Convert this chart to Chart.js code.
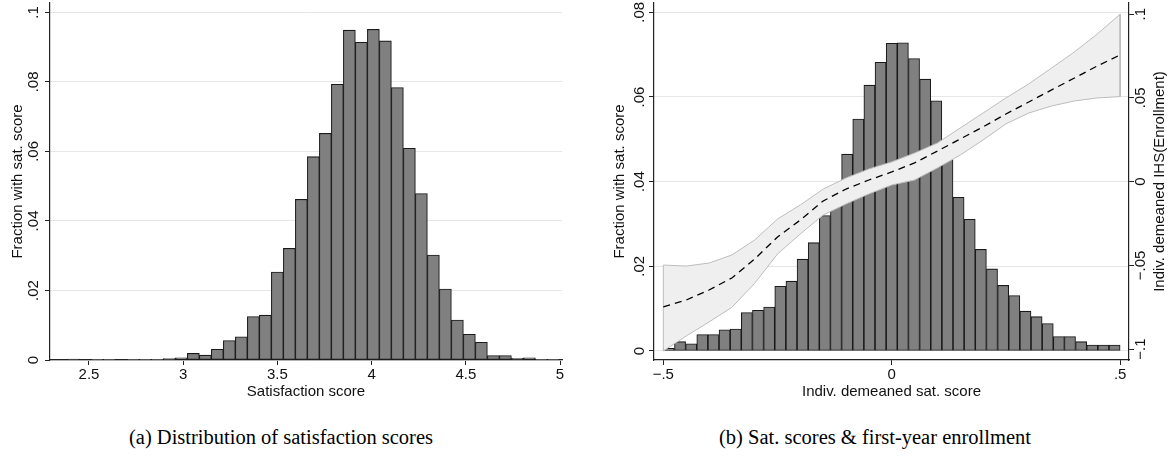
<!DOCTYPE html>
<html>
<head>
<meta charset="utf-8">
<script src="https://cdn.jsdelivr.net/npm/chart.js@4.4.0/dist/chart.umd.min.js"></script>
<style>
    body { margin: 0; background: #fff; width: 1176px; height: 471px; position: relative; overflow: hidden; }
    canvas { display: block; }
    #wrapA { position: absolute; left: 0; top: 0; }
    #wrapB { position: absolute; left: 585px; top: 0; }
    .caption {
        position: absolute; top: 425px; white-space: nowrap;
        font-family: "Liberation Serif", "Times New Roman", serif; font-size: 20.5px; line-height: 24px;
        color: #000; transform: translateX(-50%);
    }
</style>
</head>
<body>
<div id="wrapA"><canvas id="chartA" width="585" height="410"></canvas></div>
<div id="wrapB"><canvas id="chartB" width="591" height="410"></canvas></div>
<div class="caption" style="left:281px">(a) Distribution of satisfaction scores</div>
<div class="caption" style="left:875px">(b) Sat. scores &amp; first-year enrollment</div>

<script>
// ---- panel (a): histogram of satisfaction scores ----
const binsA = [2.4169, 2.4806, 2.5443, 2.6080, 2.6717, 2.7354, 2.7991, 2.8628, 2.9265, 2.9902,
    3.0539, 3.1176, 3.1813, 3.2450, 3.3087, 3.3724, 3.4361, 3.4998, 3.5635, 3.6272,
    3.6909, 3.7546, 3.8183, 3.8820, 3.9457, 4.0094, 4.0731, 4.1368, 4.2005, 4.2642,
    4.3279, 4.3916, 4.4553, 4.5190, 4.5827, 4.6464, 4.7101, 4.7738, 4.8375, 4.9012, 4.9649];
const fracA = [0.0003, 0, 0.0002, 0.0002, 0, 0.0002, 0.0002, 0.0002, 0.0004, 0.0006,
    0.0019, 0.0014, 0.0031, 0.0056, 0.0067, 0.0125, 0.0129, 0.0253, 0.0321, 0.0462,
    0.0585, 0.0652, 0.0793, 0.0949, 0.0914, 0.0951, 0.0918, 0.0784, 0.0609, 0.0479,
    0.0302, 0.0204, 0.0115, 0.0074, 0.0051, 0.0013, 0.0013, 0.0005, 0.0006, 0.0001, 0.0002];
const xTicksA = [2.5, 3, 3.5, 4, 4.5, 5];
const xLabelsA = ['2.5', '3', '3.5', '4', '4.5', '5'];
const yTicksA = [0, 0.02, 0.04, 0.06, 0.08, 0.1];
const yLabelsA = ['0', '.02', '.04', '.06', '.08', '.1'];

// ---- panel (b): demeaned scores + enrollment fit ----
const binsB = [-0.4878, -0.4634, -0.4390, -0.4146, -0.3902, -0.3659, -0.3415, -0.3171, -0.2927, -0.2683,
    -0.2439, -0.2195, -0.1951, -0.1707, -0.1463, -0.1220, -0.0976, -0.0732, -0.0488, -0.0244,
    0.0000, 0.0244, 0.0488, 0.0732, 0.0976, 0.1220, 0.1463, 0.1707, 0.1951, 0.2195,
    0.2439, 0.2683, 0.2927, 0.3171, 0.3415, 0.3659, 0.3902, 0.4146, 0.4390, 0.4634, 0.4878];
const fracB = [0.0006, 0.0022, 0.0017, 0.0039, 0.0039, 0.0050, 0.0052, 0.0091, 0.0096, 0.0104,
    0.0153, 0.0165, 0.0217, 0.0256, 0.0320, 0.0380, 0.0465, 0.0548, 0.0628, 0.0682,
    0.0727, 0.0728, 0.0691, 0.0642, 0.0591, 0.0480, 0.0363, 0.0311, 0.0240, 0.0194,
    0.0155, 0.0131, 0.0094, 0.0081, 0.0065, 0.0034, 0.0034, 0.0022, 0.0014, 0.0014, 0.0014];
const curveX = [-0.5, -0.45, -0.4, -0.35, -0.3, -0.25, -0.2, -0.15, -0.1, -0.05, 0,
    0.05, 0.1, 0.15, 0.2, 0.25, 0.3, 0.35, 0.4, 0.45, 0.5];
const fitLine = [-0.0747, -0.0707, -0.0647, -0.0575, -0.0462, -0.0330, -0.0229, -0.0115, -0.0044, 0.0010, 0.0058,
    0.0112, 0.0183, 0.0255, 0.0327, 0.0404, 0.0476, 0.0548, 0.0619, 0.0691, 0.0757];
const ciUpper = [-0.0498, -0.0504, -0.0486, -0.0438, -0.0348, -0.0223, -0.0139, -0.0044, 0.0022, 0.0076, 0.0118,
    0.0171, 0.0231, 0.0321, 0.0410, 0.0500, 0.0584, 0.0679, 0.0775, 0.0882, 0.1000];
const ciLower = [-0.1011, -0.0922, -0.0838, -0.0751, -0.0607, -0.0432, -0.0312, -0.0199, -0.0133, -0.0073, -0.0020,
    0.0010, 0.0082, 0.0159, 0.0249, 0.0345, 0.0410, 0.0452, 0.0482, 0.0500, 0.0508];
const xTicksB = [-0.5, 0, 0.5];
const xLabelsB = ['\u2212.5', '0', '.5'];
const yTicksB = [0, 0.02, 0.04, 0.06, 0.08];
const yLabelsB = ['0', '.02', '.04', '.06', '.08'];
const y2Ticks = [-0.1, -0.05, 0, 0.05, 0.1];
const y2Labels = ['\u2212.1', '\u2212.05', '0', '.05', '.1'];

const FONT = '"Liberation Sans", Arial, sans-serif';
const INK = '#111';
const AXIS = '#222';
const GRID = '#e6e6e6';

Chart.defaults.font.family = FONT;
Chart.defaults.font.size = 15;
Chart.defaults.color = INK;

// Stata prints y tick labels and titles turned on their side, Chart.js only does that for titles
function rotatedText(cfg) {
    return {
        id: 'rotatedText',
        afterDraw(chart) {
            const ctx = chart.ctx;
            const area = chart.chartArea;
            const put = (text, x, y) => {
                ctx.save();
                ctx.translate(x, y);
                ctx.rotate(-Math.PI / 2);
                ctx.fillText(text, 0, 0);
                ctx.restore();
            };
            ctx.save();
            ctx.font = '15px ' + FONT;
            ctx.fillStyle = INK;
            ctx.textAlign = 'center';
            ctx.textBaseline = 'alphabetic';
            cfg.axes.forEach(a => {
                const scale = chart.scales[a.id];
                a.values.forEach((v, i) => put(a.labels[i], a.x, scale.getPixelForValue(v)));
            });
            cfg.titles.forEach(t => put(t.text, t.x, (area.top + area.bottom) / 2));
            ctx.restore();
        }
    };
}

function fixedTicks(values) {
    return scale => { scale.ticks = values.map(v => ({ value: v })); };
}

function xAxis(min, max, ticks, labels, title) {
    return {
        type: 'linear', min: min, max: max, offset: false,
        afterBuildTicks: fixedTicks(ticks),
        afterFit: scale => { scale.height = 50; },
        grid: { offset: false, drawOnChartArea: false, drawTicks: true, tickLength: 5, tickColor: AXIS, tickWidth: 1 },
        border: { color: AXIS, width: 1.2 },
        ticks: { autoSkip: false, maxRotation: 0, minRotation: 0, padding: 1, callback: (v, i) => labels[i] },
        title: { display: true, text: title, padding: { top: 0, bottom: 9 } }
    };
}

const barStyle = {
    backgroundColor: '#808080',
    borderColor: '#1a1a1a',
    borderWidth: 1.1,
    borderSkipped: false,
    barPercentage: 1,
    categoryPercentage: 1
};

new Chart(document.getElementById('chartA'), {
    type: 'bar',
    data: {
        datasets: [Object.assign({
            data: binsA.map((x, i) => ({ x: x, y: fracA[i] }))
        }, barStyle)]
    },
    options: {
        responsive: false,
        animation: false,
        devicePixelRatio: 1,
        layout: { padding: { left: 0, top: 3, right: 23, bottom: 0 } },
        plugins: { legend: { display: false }, tooltip: { enabled: false } },
        scales: {
            x: xAxis(2.293, 5.0106, xTicksA, xLabelsA, 'Satisfaction score'),
            y: {
                min: 0, max: 0.1027,
                afterBuildTicks: fixedTicks(yTicksA),
                afterFit: scale => { scale.width = 50; },
                grid: { color: GRID, lineWidth: 1, drawTicks: true, tickLength: 5, tickColor: AXIS, tickWidth: 1 },
                border: { color: AXIS, width: 1.2 },
                ticks: { display: false }
            }
        }
    },
    plugins: [rotatedText({
        axes: [{ id: 'y', values: yTicksA, labels: yLabelsA, x: 38 }],
        titles: [{ text: 'Fraction with sat. score', x: 22 }]
    })]
});

// band outline: upper edge left to right, lower edge back, then close
const bandPoints = curveX.map((x, i) => ({ x: x, y: ciUpper[i] }))
    .concat(curveX.map((x, i) => ({ x: x, y: ciLower[i] })).reverse())
    .concat([{ x: curveX[0], y: ciUpper[0] }]);

new Chart(document.getElementById('chartB'), {
    type: 'bar',
    data: {
        datasets: [
            {
                type: 'line',
                order: 0,
                yAxisID: 'y2',
                data: curveX.map((x, i) => ({ x: x, y: fitLine[i] })),
                borderColor: '#000',
                borderWidth: 1.3,
                borderDash: [7, 5],
                pointRadius: 0,
                fill: false,
                tension: 0
            },
            {
                type: 'line',
                order: 1,
                yAxisID: 'y2',
                data: bandPoints,
                borderColor: '#bdbdbd',
                borderWidth: 1,
                backgroundColor: '#efefef',
                pointRadius: 0,
                fill: 'shape',
                tension: 0
            },
            Object.assign({
                order: 2,
                yAxisID: 'y',
                data: binsB.map((x, i) => ({ x: x, y: fracB[i] }))
            }, barStyle)
        ]
    },
    options: {
        responsive: false,
        animation: false,
        devicePixelRatio: 1,
        layout: { padding: { left: 0, top: 3, right: 0, bottom: 0 } },
        plugins: { legend: { display: false }, tooltip: { enabled: false } },
        scales: {
            x: xAxis(-0.5204, 0.5194, xTicksB, xLabelsB, 'Indiv. demeaned sat. score'),
            y: {
                position: 'left',
                min: -0.00213, max: 0.0822,
                afterBuildTicks: fixedTicks(yTicksB),
                afterFit: scale => { scale.width = 69; },
                grid: { color: GRID, lineWidth: 1, drawTicks: true, tickLength: 5, tickColor: AXIS, tickWidth: 1 },
                border: { color: AXIS, width: 1.2 },
                ticks: { display: false }
            },
            y2: {
                position: 'right',
                min: -0.1065, max: 0.1067,
                afterBuildTicks: fixedTicks(y2Ticks),
                afterFit: scale => { scale.width = 47; },
                grid: { drawOnChartArea: false, drawTicks: true, tickLength: 5, tickColor: AXIS, tickWidth: 1 },
                border: { color: AXIS, width: 1.2 },
                ticks: { display: false }
            }
        }
    },
    plugins: [rotatedText({
        axes: [
            { id: 'y', values: yTicksB, labels: yLabelsB, x: 58.5 },
            { id: 'y2', values: y2Ticks, labels: y2Labels, x: 560 }
        ],
        titles: [
            { text: 'Fraction with sat. score', x: 39 },
            { text: 'Indiv. demeaned IHS(Enrollment)', x: 579 }
        ]
    })]
});
</script>
</body>
</html>
